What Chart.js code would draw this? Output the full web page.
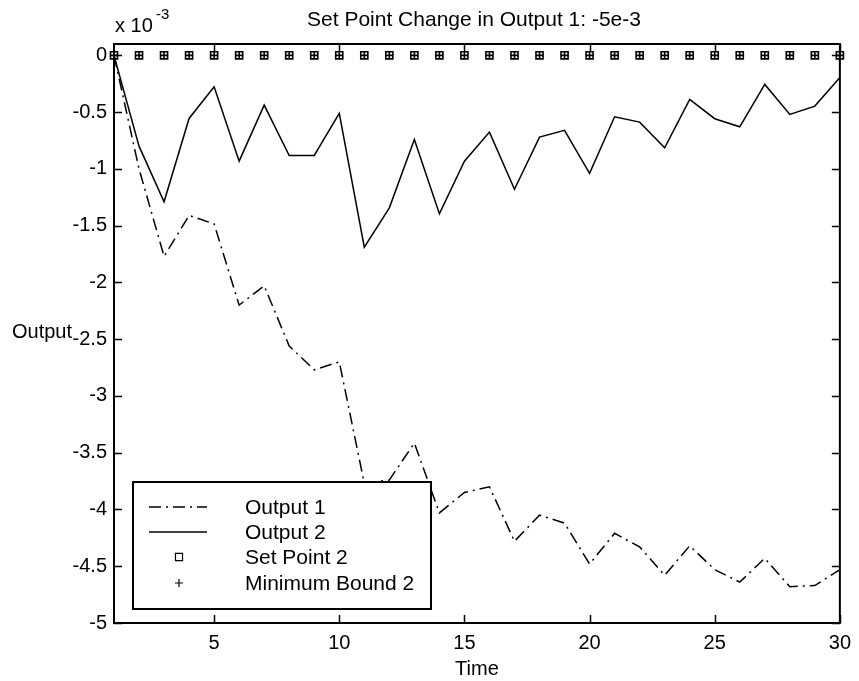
<!DOCTYPE html>
<html>
<head>
<meta charset="utf-8">
<script src="https://cdn.jsdelivr.net/npm/chart.js@4.4.1/dist/chart.umd.min.js"></script>
<style>
  html, body { margin: 0; padding: 0; background: #fff; }
  canvas { display: block; }
</style>
</head>
<body>
<canvas id="chart" width="859" height="681"></canvas>
<script>
// Output response to a set point change (values in units of 1e-3)
const FONT = "'Liberation Sans', Arial, sans-serif";

const time = [1, 2, 3, 4, 5, 6, 7, 8, 9, 10, 11, 12, 13, 14, 15,
              16, 17, 18, 19, 20, 21, 22, 23, 24, 25, 26, 27, 28, 29, 30];

const output1 = [0, -1.0, -1.77, -1.41, -1.485, -2.2, -2.03, -2.56, -2.77, -2.7,
                 -3.77, -3.74, -3.415, -4.03, -3.85, -3.8, -4.28, -4.05, -4.12, -4.48,
                 -4.21, -4.33, -4.58, -4.32, -4.53, -4.64, -4.43, -4.68, -4.67, -4.53];

const output2 = [0, -0.8, -1.29, -0.556, -0.276, -0.932, -0.438, -0.882, -0.882, -0.511,
                 -1.69, -1.343, -0.741, -1.396, -0.932, -0.676, -1.18, -0.72, -0.661, -1.04,
                 -0.541, -0.588, -0.814, -0.388, -0.558, -0.629, -0.256, -0.52, -0.447, -0.194];

const setPoint2 = [0, 0, 0, 0, 0, 0, 0, 0, 0, 0, 0, 0, 0, 0, 0,
                   0, 0, 0, 0, 0, 0, 0, 0, 0, 0, 0, 0, 0, 0, 0];

const minBound2 = [0, 0, 0, 0, 0, 0, 0, 0, 0, 0, 0, 0, 0, 0, 0,
                   0, 0, 0, 0, 0, 0, 0, 0, 0, 0, 0, 0, 0, 0, 0];

const xTicks = [5, 10, 15, 20, 25, 30];
const yTicks = [0, -0.5, -1, -1.5, -2, -2.5, -3, -3.5, -4, -4.5, -5];

const pts = (ys) => time.map((t, i) => ({ x: t, y: ys[i] }));

// Frame, inward tick marks and free-standing labels
const framePlugin = {
  id: "frame",
  afterDatasetsDraw(chart) {
    const { ctx, chartArea: a, scales } = chart;
    ctx.save();
    ctx.strokeStyle = "#000";
    ctx.lineWidth = 2;
    ctx.strokeRect(a.left, a.top, a.right - a.left, a.bottom - a.top);

    ctx.lineWidth = 1.5;
    const tl = 8;
    ctx.beginPath();
    xTicks.forEach((v) => {
      const px = Math.round(scales.x.getPixelForValue(v)) + 0.5;
      ctx.moveTo(px, a.bottom); ctx.lineTo(px, a.bottom - tl);
      ctx.moveTo(px, a.top); ctx.lineTo(px, a.top + tl);
    });
    yTicks.forEach((v) => {
      const py = Math.round(scales.y.getPixelForValue(v)) + 0.5;
      ctx.moveTo(a.left, py); ctx.lineTo(a.left + tl, py);
      ctx.moveTo(a.right, py); ctx.lineTo(a.right - tl, py);
    });
    ctx.stroke();

    // title, exponent and axis labels
    ctx.fillStyle = "#000";
    ctx.textBaseline = "alphabetic";
    ctx.textAlign = "center";
    ctx.font = `21px ${FONT}`;
    ctx.fillText("Set Point Change in Output 1: -5e-3", 474, 26);
    ctx.font = `20px ${FONT}`;
    ctx.fillText("Time", (a.left + a.right) / 2, 675);

    ctx.textAlign = "left";
    ctx.fillText("x 10", 115, 32);
    ctx.font = `15px ${FONT}`;
    ctx.fillText("-3", 156, 19);

    ctx.font = `20px ${FONT}`;
    ctx.fillText("Output", 12, 338);
    ctx.restore();
  },
};

// Boxed legend drawn inside the plot area
const boxLegendPlugin = {
  id: "boxLegend",
  afterDraw(chart) {
    const { ctx } = chart;
    const box = { x: 133, y: 482, w: 298, h: 127 };
    ctx.save();
    ctx.fillStyle = "#fff";
    ctx.fillRect(box.x, box.y, box.w, box.h);
    ctx.strokeStyle = "#000";
    ctx.lineWidth = 2;
    ctx.strokeRect(box.x, box.y, box.w, box.h);

    const rowY = [507, 532, 557, 583];
    const x0 = 149, x1 = 207, tx = 245;
    ctx.font = `21px ${FONT}`;
    ctx.textBaseline = "middle";
    ctx.textAlign = "left";
    chart.data.datasets.forEach((ds, i) => {
      const y = rowY[i];
      ctx.strokeStyle = "#000";
      if (ds.showLine !== false) {
        ctx.lineWidth = ds.borderWidth;
        ctx.setLineDash(ds.borderDash || []);
        ctx.beginPath();
        ctx.moveTo(x0, y); ctx.lineTo(x1, y);
        ctx.stroke();
        ctx.setLineDash([]);
      } else {
        ctx.fillStyle = "#fff";
        ctx.lineWidth = 1.2;
        Chart.helpers.drawPoint(ctx, {
          pointStyle: ds.pointStyle,
          radius: ds.pointStyle === "cross" ? 4 : ds.pointRadius,
          borderWidth: 1.2,
        }, 179, y);
      }
      ctx.fillStyle = "#000";
      ctx.fillText(ds.label, tx, y + 1);
    });
    ctx.restore();
  },
};

new Chart(document.getElementById("chart"), {
  type: "line",
  data: {
    datasets: [
      {
        label: "Output 1",
        data: pts(output1),
        borderColor: "#000",
        borderWidth: 1.5,
        borderDash: [12, 5, 2, 5],
        pointRadius: 0,
        tension: 0,
        order: 0,
      },
      {
        label: "Output 2",
        data: pts(output2),
        borderColor: "#000",
        borderWidth: 1.5,
        pointRadius: 0,
        tension: 0,
        order: 1,
      },
      {
        label: "Set Point 2",
        data: pts(setPoint2),
        showLine: false,
        pointStyle: "rect",
        pointRadius: 5,
        pointBorderWidth: 1.6,
        pointBorderColor: "#000",
        pointBackgroundColor: "#fff",
        clip: false,
        order: 3,
      },
      {
        label: "Minimum Bound 2",
        data: pts(minBound2),
        showLine: false,
        pointStyle: "cross",
        pointRadius: 3.5,
        pointBorderWidth: 1.6,
        pointBorderColor: "#000",
        clip: false,
        order: 2,
      },
    ],
  },
  options: {
    responsive: false,
    animation: false,
    devicePixelRatio: 1,
    layout: { padding: { top: 44, right: 11, left: 0, bottom: 0 } },
    plugins: { legend: { display: false }, tooltip: { enabled: false } },
    scales: {
      x: {
        type: "linear",
        min: 1,
        max: 30,
        afterBuildTicks: (s) => { s.ticks = xTicks.map((v) => ({ value: v })); },
        afterFit: (s) => { s.height = 58; },
        grid: { display: false, drawTicks: false },
        border: { display: false },
        ticks: {
          color: "#000",
          padding: 8,
          maxRotation: 0,
          autoSkip: false,
          font: { family: FONT, size: 20 },
          callback: (v) => String(v),
        },
      },
      y: {
        type: "linear",
        min: -5,
        max: 0.1,
        afterBuildTicks: (s) => { s.ticks = yTicks.map((v) => ({ value: v })); },
        afterFit: (s) => { s.width = 114; },
        grid: { display: false, drawTicks: false },
        border: { display: false },
        ticks: {
          color: "#000",
          padding: 7,
          autoSkip: false,
          font: { family: FONT, size: 20 },
          callback: (v) => String(v),
        },
      },
    },
  },
  plugins: [framePlugin, boxLegendPlugin],
});
</script>
</body>
</html>
